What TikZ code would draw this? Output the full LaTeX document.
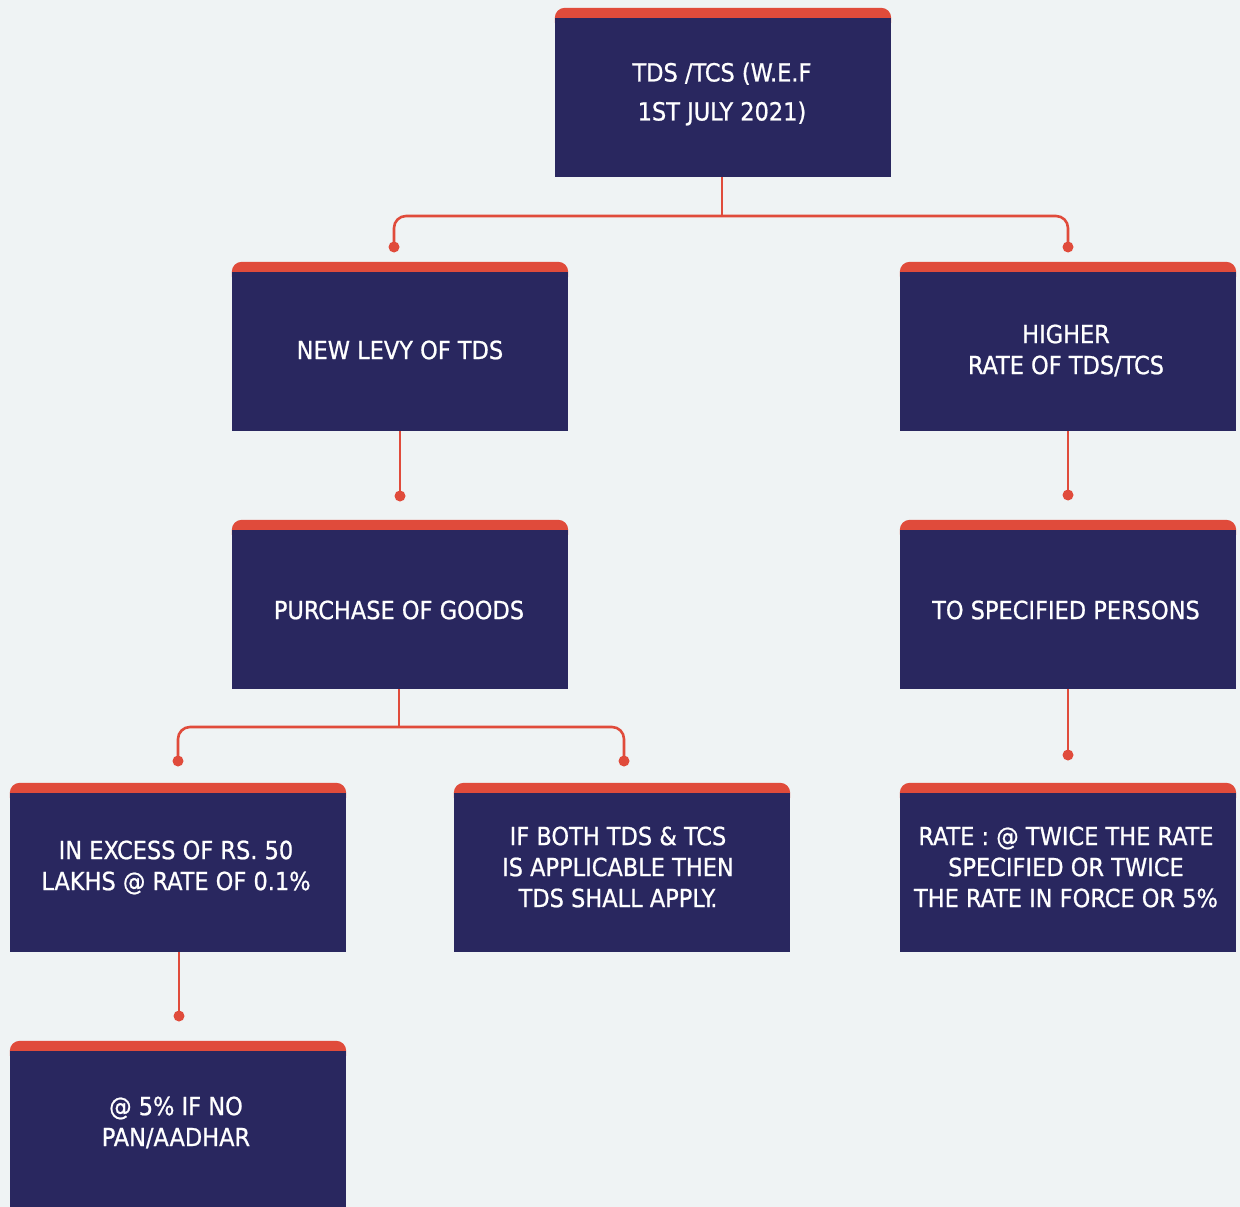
\documentclass[tikz,border=0pt]{standalone}
\usepackage{fontspec}
\setmainfont{DejaVu Sans Condensed}
\newfontfamily\cardfont{DejaVu Sans Condensed}[FakeBold=0.8]
\pgfdeclarelayer{bg}
\pgfsetlayers{bg,main}
\definecolor{paper}{HTML}{EFF3F4}
\definecolor{navy}{HTML}{29275F}
\definecolor{flame}{HTML}{E04B3B}
\tikzset{
  card/.style={rectangle, fill=navy, minimum width=336pt, minimum height=159pt,
    inner sep=0pt},
  cardtext/.style={text=white, align=center, inner sep=0pt,
    font=\cardfont\fontsize{25}{31}\selectfont},
  link/.style={draw=flame, line width=2.6pt},
  pin/.style={fill=flame},
}
\newcommand{\capband}[1]{%
  \begin{pgfonlayer}{bg}
    \fill[flame, rounded corners=10pt] ([yshift=10pt]#1.north west) rectangle ([yshift=-14pt]#1.north east);
  \end{pgfonlayer}}
\begin{document}
\begin{tikzpicture}[x=1pt, y=-1pt]
  \begin{pgfonlayer}{bg}
    \fill[paper] (0,0) rectangle (1240,1207);
  \end{pgfonlayer}
  \useasboundingbox (0,0) rectangle (1240,1207);

  % cards
  \node[card] (root)    at (723,97.5)   {};
  \node[card] (levy)    at (400,351.5)  {};
  \node[card] (higher)  at (1068,351.5) {};
  \node[card] (goods)   at (400,609.5)  {};
  \node[card] (persons) at (1068,609.5) {};
  \node[card] (excess)  at (178,872.5)  {};
  \node[card] (both)    at (622,872.5)  {};
  \node[card] (rate)    at (1068,872.5) {};
  \node[card] (nopan)   at (178,1130.5) {};

  \foreach \n in {root,levy,higher,goods,persons,excess,both,rate,nopan}{\capband{\n}}

  % card texts
  \node[cardtext, font=\cardfont\fontsize{25}{39}\selectfont] (rootlbl) at (722,94) {TDS /TCS (W.E.F\\1ST JULY 2021)};
  \node[cardtext] (levylbl)    at (400,350)   {NEW LEVY OF TDS};
  \node[cardtext] (higherlbl)  at (1066,350.5) {HIGHER\\RATE OF TDS/TCS};
  \node[cardtext] (goodslbl)   at (399,610)   {PURCHASE OF GOODS};
  \node[cardtext] (personslbl) at (1066,610)  {TO SPECIFIED PERSONS};
  \node[cardtext] (excesslbl)  at (176,867.5) {IN EXCESS OF RS. 50\\LAKHS @ RATE OF 0.1\%};
  \node[cardtext] (bothlbl)    at (618,867)   {IF BOTH TDS \& TCS\\IS APPLICABLE THEN\\TDS SHALL APPLY.};
  \node[cardtext] (ratelbl)    at (1066,867)  {RATE : @ TWICE THE RATE\\SPECIFIED OR TWICE\\THE RATE IN FORCE OR 5\%};
  \node[cardtext] (nopanlbl)   at (176,1122.5) {@ 5\% IF NO\\PAN/AADHAR};

  % connector end points
  \coordinate (bar1) at (722,216);
  \coordinate (d1) at (394,247);
  \coordinate (d2) at (1068,247);
  \coordinate (d3) at (400,496);
  \coordinate (d4) at (1068,495);
  \coordinate (bar2) at (399,727);
  \coordinate (d5) at (178,761);
  \coordinate (d6) at (624,761);
  \coordinate (d7) at (1068,755);
  \coordinate (d8) at (179,1016);

  % connectors
  \draw[link] (root.south -| bar1) -- (bar1);
  \draw[link, rounded corners=12pt] (d1) -- (d1 |- bar1) -- (d2 |- bar1) -- (d2);
  \draw[link] (levy.south) -- (d3);
  \draw[link] (higher.south) -- (d4);
  \draw[link] (goods.south -| bar2) -- (bar2);
  \draw[link, rounded corners=12pt] (d5) -- (d5 |- bar2) -- (d6 |- bar2) -- (d6);
  \draw[link] (persons.south) -- (d7);
  \draw[link] (excess.south -| d8) -- (d8);

  \foreach \d in {d1,d2,d3,d4,d5,d6,d7,d8}{\fill[pin] (\d) circle (5.5pt);}
\end{tikzpicture}
\end{document}
